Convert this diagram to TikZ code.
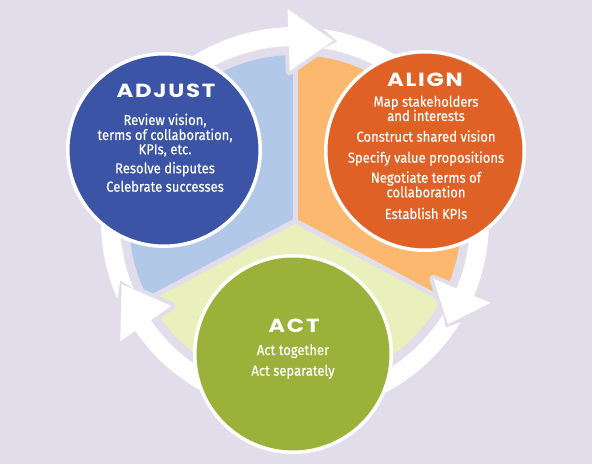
\documentclass[tikz,border=0pt]{standalone}
\usepackage{fontspec}
\setmainfont{Fira Sans}
\newfontfamily\bodyfont{Fira Sans}[FakeStretch=0.9, FakeBold=0.4]
\newfontfamily\titlefont{Poppins}[LetterSpace=9, FakeStretch=1.2]
\definecolor{bgc}{RGB}{225,221,234}
\definecolor{adjblue}{RGB}{59,84,165}
\definecolor{alorange}{RGB}{223,97,38}
\definecolor{actgreen}{RGB}{155,177,58}
\definecolor{secblue}{RGB}{178,200,232}
\definecolor{secorange}{RGB}{251,184,110}
\definecolor{secyellow}{RGB}{233,240,187}
\tikzset{
  circ/.style={circle, draw=white, line width=3.5pt, inner sep=0pt},
  ttl/.style={font=\titlefont\bfseries\fontsize{19}{20}\selectfont, text=white, anchor=base, inner sep=0pt},
  bodytxt/.style={font=\bodyfont\fontsize{14.5}{15}\selectfont, text=white, anchor=base, inner sep=0pt},
  divider/.style={draw=bgc, line width=5pt},
}
\begin{document}
\begin{tikzpicture}[x=1pt,y=1pt]
\useasboundingbox (0,0) rectangle (592,464);
\fill[bgc] (0,0) rectangle (592,464);
\begin{scope}[shift={(295,243)}]
  % sectors
  \fill[secblue] (0,0) -- (90:166) arc[start angle=90, end angle=208, radius=166] -- cycle;
  \fill[secyellow] (0,0) -- (208:166) arc[start angle=208, end angle=332, radius=166] -- cycle;
  \fill[secorange] (0,0) -- (-28:166) arc[start angle=-28, end angle=90, radius=166] -- cycle;
  \coordinate (o) at (0,0);
  \coordinate (d1) at (90:172);
  \coordinate (d2) at (208:172);
  \coordinate (d3) at (-28:172);
  \draw[divider] (o) -- (d1);
  \draw[divider] (o) -- (d2);
  \draw[divider] (o) -- (d3);
  % ring segments: outlines first, then white fills
  \foreach \pp/\lp/\b/\p in {200/14.5/92/78, 78/14/-22.7/-34, -34/11.3/-145.5/-160}{
    \pgfmathsetmacro\co{\pp + \lp*9.5/27.5 - 1.3}
    \pgfmathsetmacro\ci{\pp + \lp*9.5/34.5 - 1.3}
    \pgfmathsetmacro\nv{\pp - 1.3}
    \filldraw[fill=bgc, draw=bgc, line width=8pt, line join=round]
      (\co:194) arc[start angle=\co, end angle=\b, radius=194]
      -- (\b:212) -- (\p:184.5) -- (\b:150) -- (\b:175)
      arc[start angle=\b, end angle=\ci, radius=175]
      -- (\nv:184.5) -- cycle;
  }
  \foreach \pp/\lp/\b/\p in {200/14.5/92/78, 78/14/-22.7/-34, -34/11.3/-145.5/-160}{
    \pgfmathsetmacro\co{\pp + \lp*9.5/27.5 - 1.3}
    \pgfmathsetmacro\ci{\pp + \lp*9.5/34.5 - 1.3}
    \pgfmathsetmacro\nv{\pp - 1.3}
    \fill[white]
      (\co:194) arc[start angle=\co, end angle=\b, radius=194]
      -- (\b:212) -- (\p:184.5) -- (\b:150) -- (\b:175)
      arc[start angle=\b, end angle=\ci, radius=175]
      -- (\nv:184.5) -- cycle;
  }
\end{scope}
% circles
\node[circ, fill=adjblue, minimum size=192.5pt] (adjust) at (164,314) {};
\node[circ, fill=alorange, minimum size=198.5pt] (align) at (425,313) {};
\node[circ, fill=actgreen, minimum size=196.5pt] (act) at (293,110) {};
% ADJUST text
\node[ttl] (adjT) at (166,366.7) {ADJUST};
\node[bodytxt] (adj1) at (165,339) {Review vision,};
\node[bodytxt] (adj2) at (165,324) {terms of collaboration,};
\node[bodytxt] (adj3) at (165,309.7) {KPIs, etc.};
\node[bodytxt] (adj4) at (165,290.7) {Resolve disputes};
\node[bodytxt] (adj5) at (165,272.3) {Celebrate successes};
% ALIGN text
\node[ttl] (alT) at (425,377.3) {ALIGN};
\node[bodytxt] (al1) at (426,357.3) {Map stakeholders};
\node[bodytxt] (al2) at (426,343) {and interests};
\node[bodytxt] (al3) at (426,322.3) {Construct shared vision};
\node[bodytxt] (al4) at (426,301.3) {Specify value propositions};
\node[bodytxt] (al5) at (426,281.3) {Negotiate terms of};
\node[bodytxt] (al6) at (426,266.7) {collaboration};
\node[bodytxt] (al7) at (426,245) {Establish KPIs};
% ACT text
\node[ttl] (actT) at (294,131.3) {ACT};
\node[bodytxt] (act1) at (293,109) {Act together};
\node[bodytxt] (act2) at (293,88.3) {Act separately};
\end{tikzpicture}
\end{document}
